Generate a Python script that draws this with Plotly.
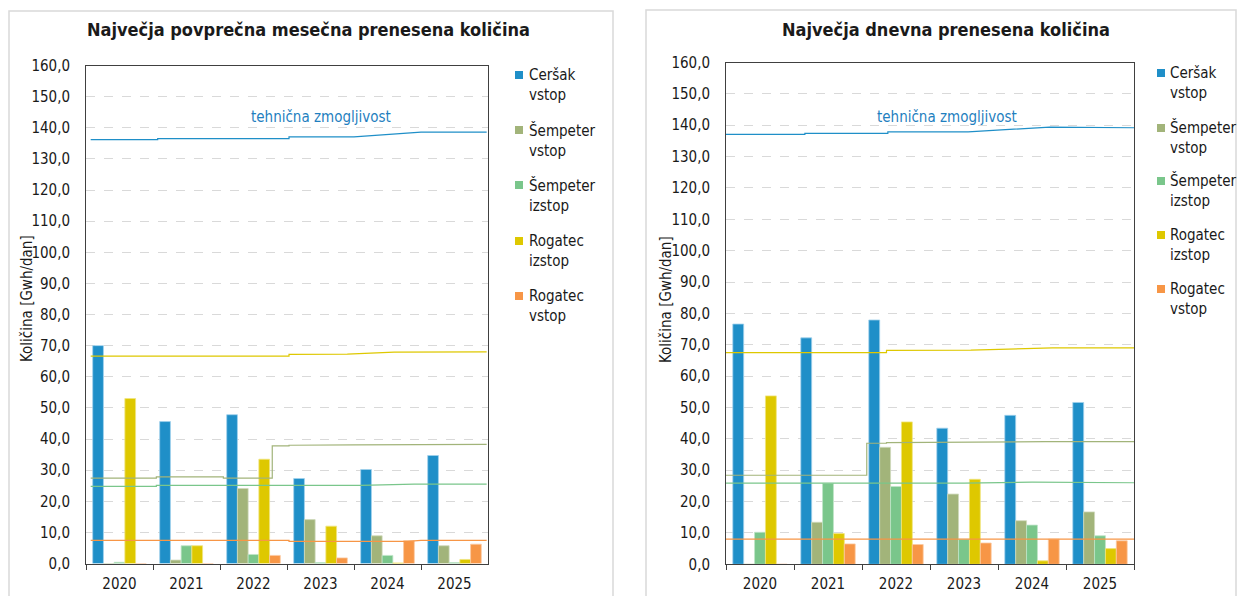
import plotly.graph_objects as go

W, H = 1238, 596

years = ["2020", "2021", "2022", "2023", "2024", "2025"]
series_labels = ["Ceršak<br>vstop", "Šempeter<br>vstop", "Šempeter<br>izstop",
                 "Rogatec<br>izstop", "Rogatec<br>vstop"]
series_colors = ["#1f8fc8", "#a2b47a", "#7ac68b", "#dec800", "#f79646"]
edge_colors = ["#9fd0ec", "#cfd9bb", "#bfe5c8", "#f0e47f", "#fbc9a2"]
y_title = "Količina [Gwh/dan]"

# Left chart: Največja povprečna mesečna prenesena količina
monthly_cersak_vstop = [70.0, 45.6, 47.8, 27.3, 30.2, 34.7]
monthly_sempeter_vstop = [0.0, 1.1, 24.1, 14.1, 8.9, 5.7]
monthly_sempeter_izstop = [0.4, 5.7, 2.9, 0.3, 2.6, 0.3]
monthly_rogatec_izstop = [53.0, 5.7, 33.5, 12.0, 0.2, 1.3]
monthly_rogatec_vstop = [0.0, 0.0, 2.6, 1.8, 7.3, 6.2]

# Right chart: Največja dnevna prenesena količina
daily_cersak_vstop = [76.6, 72.2, 77.9, 43.4, 47.5, 51.6]
daily_sempeter_vstop = [0.0, 13.4, 37.3, 22.4, 13.9, 16.7]
daily_sempeter_izstop = [10.2, 25.8, 24.8, 8.0, 12.5, 9.1]
daily_rogatec_izstop = [53.7, 9.8, 45.4, 27.1, 1.1, 5.0]
daily_rogatec_vstop = [0.0, 6.5, 6.3, 6.8, 8.0, 7.5]

# Technical capacity (tehnična zmogljivost), time in years from start of 2020
cap_left_t_cersak = [0.07, 1.07, 1.07, 3.03, 3.03, 4.0, 5.0, 5.98]
cap_left_v_cersak = [136.2, 136.2, 136.5, 136.5, 137.1, 137.1, 138.6, 138.6]
cap_left_t_semp_v = [0.07, 1.05, 1.05, 2.05, 2.05, 2.78, 2.78, 3.03, 3.03, 4.0, 5.0, 5.98]
cap_left_v_semp_v = [27.4, 27.4, 27.8, 27.8, 27.4, 27.4, 37.8, 37.8, 38.0, 38.1, 38.3, 38.3]
cap_left_t_semp_i = [0.07, 1.05, 1.05, 4.1, 4.9, 5.98]
cap_left_v_semp_i = [24.8, 24.8, 25.1, 25.1, 25.5, 25.5]
cap_left_t_rog_i = [0.07, 3.03, 3.03, 3.9, 4.6, 5.98]
cap_left_v_rog_i = [66.6, 66.6, 67.2, 67.3, 67.9, 68.0]
cap_left_t_rog_v = [0.07, 3.03, 3.03, 4.8, 5.0, 5.98]
cap_left_v_rog_v = [7.4, 7.4, 7.1, 7.1, 7.4, 7.4]

cap_right_t_cersak = [0.0, 1.16, 1.16, 2.38, 2.38, 3.56, 4.76, 6.0]
cap_right_v_cersak = [137.1, 137.1, 137.4, 137.4, 137.9, 137.9, 139.4, 139.2]
cap_right_t_semp_v = [0.0, 2.07, 2.07, 2.36, 2.36, 4.7, 6.0]
cap_right_v_semp_v = [28.4, 28.4, 38.6, 38.6, 38.8, 39.1, 39.1]
cap_right_t_semp_i = [0.0, 3.5, 4.5, 6.0]
cap_right_v_semp_i = [25.9, 25.9, 26.2, 26.0]
cap_right_t_rog_i = [0.0, 2.36, 2.36, 3.6, 4.8, 6.0]
cap_right_v_rog_i = [67.5, 67.5, 68.2, 68.3, 69.0, 69.0]
cap_right_t_rog_v = [0.0, 2.36, 2.36, 3.6, 3.6, 6.0]
cap_right_v_rog_v = [8.0, 8.0, 7.8, 7.8, 8.0, 8.0]

y_ticks = [0, 10, 20, 30, 40, 50, 60, 70, 80, 90, 100, 110, 120, 130, 140, 150, 160]

FONT = "DejaVu Sans Condensed, DejaVu Sans, sans-serif"
TXT = "#1a1a1a"


def px(x):
    return x / W


def py(y):
    return 1 - y / H


fig = go.Figure()

left_bars = [monthly_cersak_vstop, monthly_sempeter_vstop, monthly_sempeter_izstop,
             monthly_rogatec_izstop, monthly_rogatec_vstop]
right_bars = [daily_cersak_vstop, daily_sempeter_vstop, daily_sempeter_izstop,
              daily_rogatec_izstop, daily_rogatec_vstop]

for vals, lab, col, ec in zip(left_bars, series_labels, series_colors, edge_colors):
    fig.add_trace(go.Bar(x=years, y=vals, name=lab, marker_color=col,
                         marker_line=dict(width=0.8, color=ec), xaxis="x", yaxis="y",
                         offsetgroup=lab, showlegend=False))
for vals, lab, col, ec in zip(right_bars, series_labels, series_colors, edge_colors):
    fig.add_trace(go.Bar(x=years, y=vals, name=lab, marker_color=col,
                         marker_line=dict(width=0.8, color=ec), xaxis="x3", yaxis="y2",
                         offsetgroup=lab, showlegend=False))

left_caps = [(cap_left_t_cersak, cap_left_v_cersak), (cap_left_t_semp_v, cap_left_v_semp_v),
             (cap_left_t_semp_i, cap_left_v_semp_i), (cap_left_t_rog_i, cap_left_v_rog_i),
             (cap_left_t_rog_v, cap_left_v_rog_v)]
right_caps = [(cap_right_t_cersak, cap_right_v_cersak), (cap_right_t_semp_v, cap_right_v_semp_v),
              (cap_right_t_semp_i, cap_right_v_semp_i), (cap_right_t_rog_i, cap_right_v_rog_i),
              (cap_right_t_rog_v, cap_right_v_rog_v)]
for (t, v), col in zip(left_caps, series_colors):
    fig.add_trace(go.Scatter(x=t, y=v, mode="lines", line=dict(color=col, width=1.2),
                             xaxis="x2", yaxis="y", showlegend=False, hoverinfo="skip"))
for (t, v), col in zip(right_caps, series_colors):
    fig.add_trace(go.Scatter(x=t, y=v, mode="lines", line=dict(color=col, width=1.2),
                             xaxis="x4", yaxis="y2", showlegend=False, hoverinfo="skip"))

L_dom = [px(86), px(488)]
R_dom = [px(726), px(1134)]
L_ydom = [py(563.5), py(65.5)]
R_ydom = [py(564.3), py(62.5)]

cat_axis = dict(type="category", showline=True, linecolor="#404040", linewidth=1,
                mirror=True, ticks="outside", tickson="boundaries", ticklen=5,
                tickcolor="#404040", showgrid=False, zeroline=False, automargin=False,
                tickfont=dict(family=FONT, size=15, color=TXT), ticklabelstandoff=6)
lin_overlay = dict(range=[0, 6], visible=False, showgrid=False, zeroline=False,
                   automargin=False)
val_axis = dict(range=[0, 160], tickvals=y_ticks,
                ticktext=[f"{v:.1f}".replace(".", ",") for v in y_ticks],
                showline=True, linecolor="#404040", linewidth=1, mirror=True,
                showgrid=True, gridcolor="#d9d9d9", griddash="dash", gridwidth=1,
                zeroline=False, ticks="", ticklabelstandoff=12, automargin=False,
                tickfont=dict(family=FONT, size=15, color=TXT))

fig.update_layout(
    width=W, height=H, autosize=False,
    margin=dict(l=0, r=0, t=0, b=0, pad=0, autoexpand=False),
    paper_bgcolor="white", plot_bgcolor="white",
    barmode="group", bargap=0.2, bargroupgap=0.0,
    showlegend=False,
    xaxis=dict(cat_axis, domain=L_dom, anchor="y"),
    xaxis2=dict(lin_overlay, domain=L_dom, anchor="y", overlaying="x"),
    xaxis3=dict(cat_axis, domain=R_dom, anchor="y2"),
    xaxis4=dict(lin_overlay, domain=R_dom, anchor="y2", overlaying="x3"),
    yaxis=dict(val_axis, domain=L_ydom, anchor="x"),
    yaxis2=dict(val_axis, domain=R_ydom, anchor="x3"),
)

border = "#d9d9d9"
shapes = [
    dict(type="path", xref="paper", yref="paper",
         path=f"M {px(9)},{py(640)} L {px(9)},{py(11)} L {px(613)},{py(11)} L {px(613)},{py(640)}",
         line=dict(color=border, width=1.5), layer="below"),
    dict(type="path", xref="paper", yref="paper",
         path=f"M {px(646)},{py(640)} L {px(646)},{py(10)} L {px(1236)},{py(10)} L {px(1236)},{py(640)}",
         line=dict(color=border, width=1.5), layer="below"),
]

annotations = [
    dict(text="<b>Največja povprečna mesečna prenesena količina</b>", xref="paper", yref="paper",
         x=px(308), y=py(30), xanchor="center", yanchor="middle", showarrow=False,
         font=dict(family=FONT, size=18, color=TXT)),
    dict(text="<b>Največja dnevna prenesena količina</b>", xref="paper", yref="paper",
         x=px(946), y=py(30), xanchor="center", yanchor="middle", showarrow=False,
         font=dict(family=FONT, size=18, color=TXT)),
    dict(text="tehnična zmogljivost", xref="x2", yref="y", x=3.5, y=143.6,
         xanchor="center", yanchor="middle", showarrow=False,
         font=dict(family=FONT, size=15, color="#1f7fc0")),
    dict(text="tehnična zmogljivost", xref="x4", yref="y2", x=3.25, y=142.6,
         xanchor="center", yanchor="middle", showarrow=False,
         font=dict(family=FONT, size=15, color="#1f7fc0")),
    dict(text=y_title, xref="paper", yref="paper", x=px(27), y=py(299), textangle=-90,
         xanchor="center", yanchor="middle", showarrow=False,
         font=dict(family=FONT, size=15, color=TXT)),
    dict(text=y_title, xref="paper", yref="paper", x=px(666), y=py(299), textangle=-90,
         xanchor="center", yanchor="middle", showarrow=False,
         font=dict(family=FONT, size=15, color=TXT)),
]

# Legends (one per panel)
legend_left = dict(sq_x=515, txt_x=527, ys=[75, 130, 185, 241, 296])
legend_right = dict(sq_x=1157, txt_x=1168, ys=[73, 128, 181, 235, 289])
for lg in (legend_left, legend_right):
    for lab, col, yc in zip(series_labels, series_colors, lg["ys"]):
        shapes.append(dict(type="rect", xref="paper", yref="paper",
                           x0=px(lg["sq_x"]), x1=px(lg["sq_x"] + 8),
                           y0=py(yc + 4), y1=py(yc - 4),
                           line=dict(width=0), fillcolor=col))
        annotations.append(dict(text=lab, xref="paper", yref="paper",
                                x=px(lg["txt_x"]), y=py(yc + 10), xanchor="left",
                                yanchor="middle", align="left", showarrow=False,
                                font=dict(family=FONT, size=15, color=TXT)))

fig.update_layout(shapes=shapes, annotations=annotations)

fig.write_html("out.html", config={"displayModeBar": False},
               post_script="document.body.style.margin='0';document.documentElement.style.overflow='hidden';")
